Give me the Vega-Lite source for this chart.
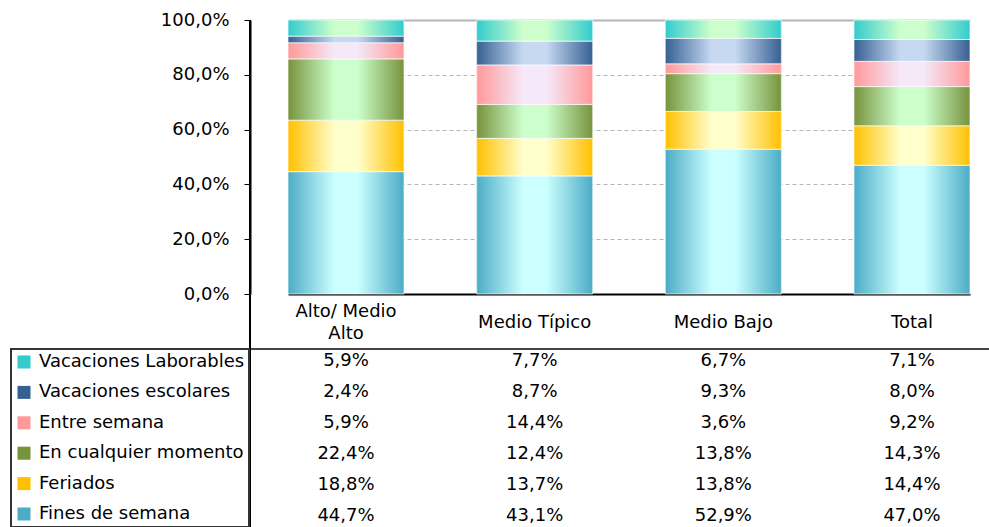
{
  "$schema": "https://vega.github.io/schema/vega-lite/v6.json",
  "width": 740,
  "height": 507,
  "autosize": {"type": "pad"},
  "padding": {"left": 10, "top": 11, "right": 0, "bottom": 0},
  "data": {"values": [
    {"cat": "Alto/ Medio Alto", "serie": "Fines de semana", "ord": 1, "value": 0.447},
    {"cat": "Alto/ Medio Alto", "serie": "Feriados", "ord": 2, "value": 0.188},
    {"cat": "Alto/ Medio Alto", "serie": "En cualquier momento", "ord": 3, "value": 0.224},
    {"cat": "Alto/ Medio Alto", "serie": "Entre semana", "ord": 4, "value": 0.059},
    {"cat": "Alto/ Medio Alto", "serie": "Vacaciones escolares", "ord": 5, "value": 0.024},
    {"cat": "Alto/ Medio Alto", "serie": "Vacaciones Laborables", "ord": 6, "value": 0.059},
    {"cat": "Medio Típico", "serie": "Fines de semana", "ord": 1, "value": 0.431},
    {"cat": "Medio Típico", "serie": "Feriados", "ord": 2, "value": 0.137},
    {"cat": "Medio Típico", "serie": "En cualquier momento", "ord": 3, "value": 0.124},
    {"cat": "Medio Típico", "serie": "Entre semana", "ord": 4, "value": 0.144},
    {"cat": "Medio Típico", "serie": "Vacaciones escolares", "ord": 5, "value": 0.087},
    {"cat": "Medio Típico", "serie": "Vacaciones Laborables", "ord": 6, "value": 0.077},
    {"cat": "Medio Bajo", "serie": "Fines de semana", "ord": 1, "value": 0.529},
    {"cat": "Medio Bajo", "serie": "Feriados", "ord": 2, "value": 0.138},
    {"cat": "Medio Bajo", "serie": "En cualquier momento", "ord": 3, "value": 0.138},
    {"cat": "Medio Bajo", "serie": "Entre semana", "ord": 4, "value": 0.036},
    {"cat": "Medio Bajo", "serie": "Vacaciones escolares", "ord": 5, "value": 0.093},
    {"cat": "Medio Bajo", "serie": "Vacaciones Laborables", "ord": 6, "value": 0.067},
    {"cat": "Total", "serie": "Fines de semana", "ord": 1, "value": 0.470},
    {"cat": "Total", "serie": "Feriados", "ord": 2, "value": 0.144},
    {"cat": "Total", "serie": "En cualquier momento", "ord": 3, "value": 0.143},
    {"cat": "Total", "serie": "Entre semana", "ord": 4, "value": 0.092},
    {"cat": "Total", "serie": "Vacaciones escolares", "ord": 5, "value": 0.080},
    {"cat": "Total", "serie": "Vacaciones Laborables", "ord": 6, "value": 0.071}
  ]},
  "layer": [
    {
      "layer": [
        {
          "transform": [
            {"stack": "value", "groupby": ["cat"], "sort": [{"field": "ord", "order": "ascending"}], "offset": "normalize", "as": ["y0", "y1"]}
          ],
          "encoding": {
            "x": {"field": "cat", "type": "nominal", "sort": null},
            "y": {"field": "y0", "type": "quantitative"},
            "y2": {"field": "y1"}
          },
          "layer": [
            {
              "mark": {"type": "bar"},
              "encoding": {
                "x": {
                  "field": "cat", "type": "nominal", "sort": null,
                  "scale": {"domain": ["Alto/ Medio Alto", "Medio Típico", "Medio Bajo", "Total"], "range": [38, 720], "paddingInner": 0.385, "paddingOuter": 0},
                  "axis": {
                    "orient": "bottom", "offset": -233, "title": null, "domain": false, "ticks": false, "tickSize": 0,
                    "labelAngle": 0, "labelBaseline": "middle", "labelLineHeight": 22,
                    "labelPadding": {"condition": {"test": "datum.value == 'Alto/ Medio Alto'", "value": 17}, "value": 28},
                    "labelFontSize": 18, "labelColor": "black", "labelFont": "DejaVu Sans",
                    "labelExpr": "datum.label == 'Alto/ Medio Alto' ? ['Alto/ Medio', 'Alto'] : datum.label"
                  }
                },
                "y": {
                  "field": "y0", "type": "quantitative",
                  "scale": {"domain": [0, 1], "range": [274, 0], "nice": false},
                  "axis": {
                    "title": null, "values": [0, 0.2, 0.4, 0.6, 0.8, 1], "format": ".1%",
                    "domain": true, "domainColor": "black", "domainWidth": 2,
                    "ticks": true, "tickSize": 6, "tickColor": "black", "tickWidth": 1,
                    "labelPadding": 15, "labelFontSize": 18, "labelColor": "black", "labelFont": "DejaVu Sans",
                    "grid": true,
                    "gridColor": {"condition": {"test": "datum.value == 0", "value": "black"}, "value": "#b5b5b5"},
                    "gridDash": {"condition": {"test": "datum.value == 0 || datum.value == 1", "value": []}, "value": [4, 3]},
                    "gridWidth": {"condition": {"test": "datum.value == 0 || datum.value == 1", "value": 2}, "value": 1}
                  }
                },
                "y2": {"field": "y1"},
                "color": {
                  "field": "serie", "type": "nominal",
                  "scale": {
                    "domain": ["Vacaciones Laborables", "Vacaciones escolares", "Entre semana", "En cualquier momento", "Feriados", "Fines de semana"],
                    "range": ["#33CCCC", "#376092", "#FF9999", "#77933C", "#FFC000", "#4BACC6"]
                  },
                  "legend": {
                    "title": null, "orient": "none", "legendX": -239, "legendY": 329, "direction": "vertical",
                    "symbolType": "square", "symbolSize": 169, "symbolStrokeWidth": 0,
                    "labelFontSize": 18, "labelFont": "DejaVu Sans", "labelColor": "black", "labelLimit": 400,
                    "labelOffset": 6, "rowPadding": 12.4, "padding": 4,
                    "strokeColor": "#333333"
                  }
                }
              }
            },
            {
              "transform": [{"filter": "datum.serie == 'Fines de semana'"}],
              "mark": {"type": "bar", "stroke": "white", "strokeWidth": 1, "strokeOpacity": 0.7,
                "fill": {"gradient": "linear", "x1": 0, "y1": 0, "x2": 1, "y2": 0,
                  "stops": [{"offset": 0, "color": "#4BACC6"}, {"offset": 0.4, "color": "#CCFFFF"}, {"offset": 0.6, "color": "#CCFFFF"}, {"offset": 1, "color": "#4BACC6"}]}}
            },
            {
              "transform": [{"filter": "datum.serie == 'Feriados'"}],
              "mark": {"type": "bar", "stroke": "white", "strokeWidth": 1, "strokeOpacity": 0.7,
                "fill": {"gradient": "linear", "x1": 0, "y1": 0, "x2": 1, "y2": 0,
                  "stops": [{"offset": 0, "color": "#FFC000"}, {"offset": 0.4, "color": "#FFFFCC"}, {"offset": 0.6, "color": "#FFFFCC"}, {"offset": 1, "color": "#FFC000"}]}}
            },
            {
              "transform": [{"filter": "datum.serie == 'En cualquier momento'"}],
              "mark": {"type": "bar", "stroke": "white", "strokeWidth": 1, "strokeOpacity": 0.7,
                "fill": {"gradient": "linear", "x1": 0, "y1": 0, "x2": 1, "y2": 0,
                  "stops": [{"offset": 0, "color": "#77933C"}, {"offset": 0.4, "color": "#CCFFCC"}, {"offset": 0.6, "color": "#CCFFCC"}, {"offset": 1, "color": "#77933C"}]}}
            },
            {
              "transform": [{"filter": "datum.serie == 'Entre semana'"}],
              "mark": {"type": "bar", "stroke": "white", "strokeWidth": 1, "strokeOpacity": 0.7,
                "fill": {"gradient": "linear", "x1": 0, "y1": 0, "x2": 1, "y2": 0,
                  "stops": [{"offset": 0, "color": "#FF9999"}, {"offset": 0.4, "color": "#F5E8F8"}, {"offset": 0.6, "color": "#F5E8F8"}, {"offset": 1, "color": "#FF9999"}]}}
            },
            {
              "transform": [{"filter": "datum.serie == 'Vacaciones escolares'"}],
              "mark": {"type": "bar", "stroke": "white", "strokeWidth": 1, "strokeOpacity": 0.7,
                "fill": {"gradient": "linear", "x1": 0, "y1": 0, "x2": 1, "y2": 0,
                  "stops": [{"offset": 0, "color": "#376092"}, {"offset": 0.4, "color": "#C6D9F1"}, {"offset": 0.6, "color": "#C6D9F1"}, {"offset": 1, "color": "#376092"}]}}
            },
            {
              "transform": [{"filter": "datum.serie == 'Vacaciones Laborables'"}],
              "mark": {"type": "bar", "stroke": "white", "strokeWidth": 1, "strokeOpacity": 0.7,
                "fill": {"gradient": "linear", "x1": 0, "y1": 0, "x2": 1, "y2": 0,
                  "stops": [{"offset": 0, "color": "#33CCCC"}, {"offset": 0.4, "color": "#CCFFCC"}, {"offset": 0.6, "color": "#CCFFCC"}, {"offset": 1, "color": "#33CCCC"}]}}
            }
          ]
        },
        {
          "layer": [
            {
              "mark": {"type": "text", "fontSize": 18, "font": "DejaVu Sans", "color": "black", "baseline": "middle", "align": "center"},
              "encoding": {
                "x": {"field": "cat", "type": "nominal", "sort": null},
                "y": {
                  "field": "serie", "type": "nominal",
                  "scale": {
                    "domain": ["Vacaciones Laborables", "Vacaciones escolares", "Entre semana", "En cualquier momento", "Feriados", "Fines de semana"],
                    "range": [326, 511], "paddingInner": 0, "paddingOuter": 0
                  },
                  "axis": null
                },
                "text": {"field": "value", "type": "quantitative", "format": ".1%"}
              }
            },
            {
              "transform": [{"filter": "datum.serie == 'Vacaciones Laborables' && datum.cat == 'Total'"}],
              "mark": {"type": "rule", "color": "#444444", "strokeWidth": 2},
              "encoding": {
                "y": {"field": "serie", "type": "nominal", "bandPosition": 0.1}
              }
            }
          ]
        }
      ],
      "resolve": {"scale": {"y": "independent"}}
    },
    {
      "data": {"values": [{}]},
      "mark": {"type": "rule", "color": "black", "strokeWidth": 2},
      "encoding": {
        "x": {"datum": 0, "type": "quantitative", "scale": {"domain": [0, 1]}, "axis": null}
      }
    }
  ],
  "resolve": {"scale": {"x": "independent"}},
  "config": {
    "font": "DejaVu Sans",
    "view": {"stroke": null},
    "locale": {"number": {"decimal": ",", "thousands": ".", "grouping": [3], "currency": ["", " €"]}},
    "legend": {"strokeWidth": 2}
  }
}
